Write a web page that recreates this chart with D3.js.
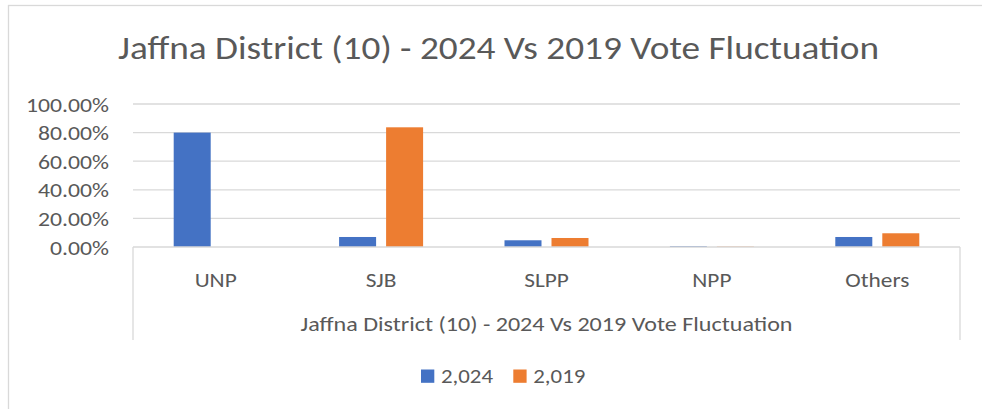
<!DOCTYPE html>
<html>
<head>
<meta charset="utf-8">
<script src="https://cdn.jsdelivr.net/npm/d3@7"></script>
<style>
  html, body { margin: 0; padding: 0; background: #fff; }
  svg { display: block; }
  text { font-family: Carlito, Calibri, Lato, "Liberation Sans", sans-serif; fill: #595959; font-weight: 300; }
</style>
</head>
<body>
<svg id="chart" width="982" height="409"></svg>
<script>
const chartTitle = "Jaffna District (10) - 2024 Vs 2019 Vote Fluctuation";
const axisTitle = "Jaffna District (10) - 2024 Vs 2019 Vote Fluctuation";
const categories = ["UNP", "SJB", "SLPP", "NPP", "Others"];
const seriesNames = ["2,024", "2,019"];
const values2024 = [0.800, 0.070, 0.047, 0.006, 0.070];
const values2019 = [0.000, 0.837, 0.063, 0.003, 0.096];
const yTicks = [0, 0.2, 0.4, 0.6, 0.8, 1.0];
const colors = ["#4472C4", "#ED7D31"];

const seriesValues = [values2024, values2019];
const svg = d3.select("#chart");

const plot = { left: 133, right: 960, top: 104, bottom: 247 };
const catBoxBottom = 340;

// outer chart border (extends past right/bottom edges as in the reference)
svg.append("rect")
  .attr("x", 8.5).attr("y", 5.5)
  .attr("width", 1000).attr("height", 500)
  .attr("fill", "#fff").attr("stroke", "#d9d9d9").attr("stroke-width", 1.3);

const x0 = d3.scaleBand().domain(categories).range([plot.left, plot.right]).paddingInner(0).paddingOuter(0);
const x1 = d3.scaleBand().domain(seriesNames).range([-42, 42]).paddingInner(10 / 47).paddingOuter(0);
const y = d3.scaleLinear().domain([0, 1]).range([plot.bottom, plot.top]);

function fit(sel, ratio) {
  sel.each(function () {
    const w = this.getComputedTextLength();
    d3.select(this).attr("textLength", w * ratio).attr("lengthAdjust", "spacingAndGlyphs");
  });
}
function ratioFor(sel, target) {
  const w = sel.node().getComputedTextLength();
  return target / w;
}

// gridlines
const grid = svg.append("g");
grid.selectAll("line").data(yTicks.filter(d => d > 0)).join("line")
  .attr("x1", plot.left).attr("x2", plot.right)
  .attr("y1", d => y(d)).attr("y2", d => y(d))
  .attr("stroke", "#d9d9d9").attr("stroke-width", 1.3);

// y-axis via d3.axisLeft (domain/ticks hidden, labels styled)
const fmt = d3.format(".2%");
const yAxis = svg.append("g")
  .attr("transform", `translate(${plot.left},0)`)
  .call(d3.axisLeft(y).tickValues(yTicks).tickFormat(fmt).tickSize(0).tickPadding(24));
yAxis.select(".domain").remove();
yAxis.selectAll("text")
  .attr("font-size", 19.5)
  .attr("fill", "#595959")
  .attr("dy", "0.36em")
  .style("font-family", 'Carlito, Calibri, Lato, "Liberation Sans", sans-serif')
  .style("font-weight", 300);
{
  const ref = yAxis.selectAll("text").filter(d => d === 1);
  const r = ratioFor(ref, 83);
  fit(yAxis.selectAll("text"), r);
}

// bars
const groups = svg.append("g").selectAll("g").data(categories).join("g")
  .attr("transform", d => `translate(${x0(d) + x0.bandwidth() / 2},0)`);
groups.selectAll("rect")
  .data((c, i) => seriesNames.map((s, j) => ({ s, j, v: seriesValues[j][i] })))
  .join("rect")
  .attr("x", d => x1(d.s))
  .attr("width", x1.bandwidth())
  .attr("y", d => y(d.v))
  .attr("height", d => y(0) - y(d.v))
  .attr("fill", d => colors[d.j]);

// category box (axis line + side lines)
const box = svg.append("g").attr("fill", "none").attr("stroke", "#d9d9d9").attr("stroke-width", 1.3);
box.append("line").attr("x1", plot.left).attr("x2", plot.right).attr("y1", plot.bottom).attr("y2", plot.bottom);
box.append("line").attr("x1", plot.left).attr("x2", plot.left).attr("y1", plot.bottom).attr("y2", catBoxBottom);
box.append("line").attr("x1", plot.right).attr("x2", plot.right).attr("y1", plot.bottom).attr("y2", catBoxBottom);

// category labels
const catLabels = svg.append("g").selectAll("text").data(categories).join("text")
  .attr("x", d => x0(d) + x0.bandwidth() / 2)
  .attr("y", 287)
  .attr("text-anchor", "middle")
  .attr("font-size", 19.5)
  .text(d => d);
{
  const r = ratioFor(catLabels.filter(d => d === "Others"), 64);
  fit(catLabels, r);
}

// axis title
const at = svg.append("text")
  .attr("x", (plot.left + plot.right) / 2)
  .attr("y", 331)
  .attr("text-anchor", "middle")
  .attr("font-size", 19.5)
  .text(axisTitle);
fit(at, ratioFor(at, 492));

// chart title
const t = svg.append("text")
  .attr("x", 498.5)
  .attr("y", 59)
  .attr("text-anchor", "middle")
  .attr("font-size", 33.5)
  .text(chartTitle);
fit(t, ratioFor(t, 761));

// legend
const legendX = [421, 513.3];
const leg = svg.append("g").selectAll("g").data(seriesNames).join("g")
  .attr("transform", (d, i) => `translate(${legendX[i]},369.5)`);
leg.append("rect").attr("width", 13.3).attr("height", 13.3).attr("fill", (d, i) => colors[i]);
const legText = leg.append("text").attr("x", 20).attr("y", 13.8).attr("font-size", 20.5).text(d => d);
fit(legText, ratioFor(legText.filter((d, i) => i === 0), 52));
</script>
</body>
</html>
